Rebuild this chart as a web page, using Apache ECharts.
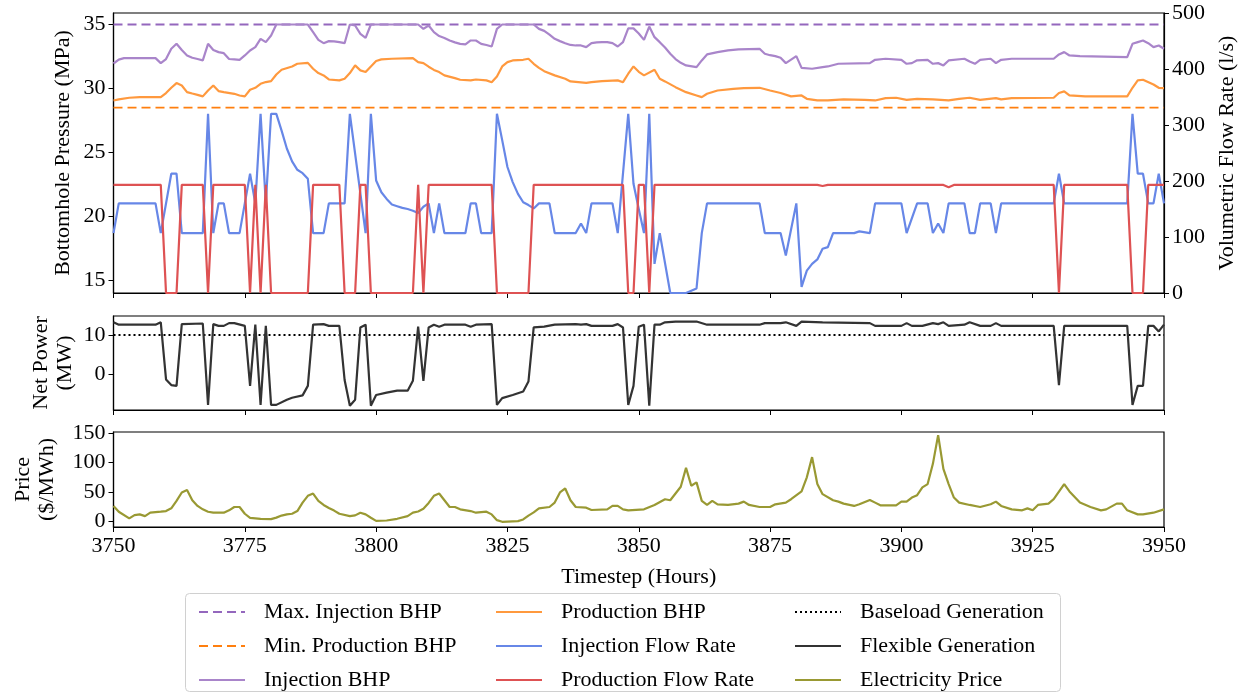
<!DOCTYPE html>
<html>
<head>
<meta charset="utf-8">
<script src="https://cdn.jsdelivr.net/npm/echarts@6.0.0/dist/echarts.min.js"></script>
<style>
  html, body { margin: 0; padding: 0; background: #fff; }
  #chart { width: 1245px; height: 700px; }
</style>
</head>
<body>
<div id="chart"></div>
<script>
// hours shown on the x axis
var hourRange = [3750, 3950];

// constant limits
var maxInjBhp = 35;
var minProdBhp = 28.5;
var baseload = 10;

// [hour, MPa]
var injBhp = [[3750,31.95],[3751,32.25],[3752,32.37],[3758,32.37],[3759,31.98],[3760,32.3],[3761,33.1],[3762,33.49],[3763,33.0],[3764,32.58],[3765,32.4],[3766,32.3],[3767,32.19],[3768,33.49],[3769,33.0],[3770,32.84],[3771,32.76],[3772,32.3],[3773,32.27],[3774,32.24],[3775,32.58],[3776,32.97],[3777,33.23],[3778,33.88],[3779,33.62],[3780,34.14],[3781,35],[3787,35],[3788,34.4],[3789,33.8],[3790,33.54],[3791,33.7],[3792,33.68],[3793,33.62],[3794,33.54],[3795,35],[3796,34.92],[3797,34.27],[3798,33.96],[3799,35],[3808,35],[3809,34.66],[3810,34.92],[3811,34.4],[3812,34.1],[3813,33.95],[3814,33.75],[3815,33.6],[3816,33.49],[3817,33.44],[3818,33.75],[3819,33.75],[3820,33.49],[3821,33.4],[3822,33.28],[3823,34.66],[3824,35],[3830,35],[3831,34.66],[3832,34.5],[3833,34.2],[3834,33.88],[3835,33.7],[3836,33.54],[3837,33.4],[3838,33.36],[3839,33.36],[3840,33.23],[3841,33.54],[3842,33.6],[3843,33.62],[3844,33.62],[3845,33.54],[3846,33.28],[3847,33.62],[3848,34.7],[3849,34.7],[3850,34.3],[3851,33.8],[3852,34.84],[3853,34.01],[3854,33.62],[3855,33.2],[3856,32.71],[3857,32.3],[3858,32.0],[3859,31.8],[3861,31.67],[3862,32.19],[3863,32.66],[3865,32.84],[3867,32.97],[3869,33.05],[3873,33.1],[3874,32.71],[3875,32.6],[3876,32.53],[3877,32.4],[3878,31.98],[3880,32.53],[3881,31.61],[3883,31.54],[3885,31.67],[3886,31.72],[3888,31.93],[3894,31.98],[3895,32.24],[3897,32.32],[3900,32.24],[3901,31.93],[3902,31.98],[3903,32.2],[3905,32.24],[3906,31.93],[3907,31.98],[3908,31.8],[3909,32.19],[3912,32.32],[3913,32.1],[3914,31.93],[3915,32.24],[3917,32.32],[3918,31.98],[3919,32.24],[3921,32.32],[3929,32.32],[3930,32.66],[3931,32.84],[3932,32.58],[3934,32.53],[3943,32.45],[3944,33.49],[3945,33.62],[3946,33.75],[3947,33.54],[3948,33.23],[3949,33.36],[3950,33.1]];

var prodBhp = [[3750,29.06],[3751,29.15],[3753,29.27],[3755,29.32],[3759,29.32],[3760,29.64],[3761,30.05],[3762,30.42],[3763,30.23],[3764,29.71],[3765,29.6],[3766,29.5],[3767,29.38],[3768,29.84],[3769,30.23],[3770,29.79],[3771,29.71],[3773,29.58],[3774,29.45],[3775,29.38],[3776,29.9],[3777,30.05],[3778,30.36],[3779,30.5],[3780,30.57],[3781,31.09],[3782,31.46],[3784,31.72],[3785,31.93],[3787,32.0],[3788,31.54],[3789,31.2],[3790,31.02],[3791,30.7],[3793,30.63],[3794,30.76],[3795,31.2],[3796,31.8],[3797,31.41],[3798,31.28],[3799,31.72],[3800,32.14],[3801,32.27],[3803,32.32],[3807,32.37],[3808,32.06],[3809,31.98],[3810,31.7],[3811,31.45],[3812,31.28],[3813,31.02],[3815,30.81],[3816,30.68],[3818,30.63],[3819,30.7],[3821,30.63],[3822,30.49],[3823,30.94],[3824,31.72],[3825,32.06],[3826,32.19],[3828,32.24],[3829,32.32],[3830,31.93],[3831,31.61],[3832,31.35],[3834,31.02],[3836,30.76],[3837,30.55],[3840,30.44],[3841,30.49],[3843,30.57],[3846,30.63],[3847,30.49],[3848,31.15],[3849,31.72],[3850,31.3],[3851,31.02],[3853,31.46],[3854,30.76],[3855,30.55],[3857,30.1],[3859,29.71],[3861,29.45],[3862,29.32],[3863,29.58],[3865,29.84],[3868,29.97],[3870,30.03],[3873,30.05],[3875,29.84],[3877,29.64],[3879,29.38],[3881,29.45],[3882,29.19],[3884,29.06],[3886,29.06],[3889,29.14],[3893,29.11],[3895,29.06],[3897,29.24],[3899,29.27],[3901,29.11],[3903,29.19],[3906,29.14],[3909,29.06],[3911,29.19],[3913,29.27],[3915,29.11],[3918,29.24],[3919,29.14],[3921,29.24],[3929,29.27],[3930,29.64],[3931,29.77],[3932,29.45],[3935,29.38],[3943,29.38],[3944,30.05],[3945,30.63],[3946,30.68],[3948,30.31],[3949,30.05],[3950,30.03]];

// [hour, l/s]
var injFlow = [[3750,107],[3751,160],[3758,160],[3759,107],[3761,213],[3762,213],[3763,107],[3767,107],[3768,320],[3769,107],[3770,160],[3771,160],[3772,107],[3774,107],[3775,160],[3776,213],[3777,160],[3778,320],[3779,160],[3780,320],[3781,320],[3782,290],[3783,258],[3784,235],[3785,220],[3786,214],[3787,204],[3788,107],[3790,107],[3791,160],[3794,160],[3795,320],[3798,107],[3799,320],[3800,201],[3801,180],[3802,168],[3803,158],[3804,155],[3805,152],[3806,150],[3807,147],[3808,143],[3809,154],[3810,160],[3811,107],[3812,160],[3813,107],[3817,107],[3818,160],[3819,160],[3820,107],[3822,107],[3823,320],[3824,273],[3825,225],[3826,198],[3827,177],[3828,162],[3829,157],[3830,151],[3831,160],[3833,160],[3834,107],[3838,107],[3839,124],[3840,107],[3841,160],[3845,160],[3846,107],[3848,320],[3849,195],[3850,150],[3851,107],[3852,320],[3853,52],[3854,107],[3856,0],[3859,0],[3860,4],[3861,8],[3862,107],[3863,160],[3873,160],[3874,107],[3877,107],[3878,67],[3880,160],[3881,11],[3882,40],[3883,52],[3884,60],[3885,79],[3886,82],[3887,107],[3891,107],[3892,110],[3894,107],[3895,160],[3900,160],[3901,107],[3903,160],[3905,160],[3906,107],[3907,124],[3908,107],[3909,160],[3912,160],[3913,107],[3914,107],[3915,160],[3917,160],[3918,107],[3919,160],[3929,160],[3930,213],[3931,160],[3943,160],[3944,320],[3945,213],[3946,213],[3947,160],[3948,160],[3949,213],[3950,160]];

var prodFlow = [[3750,193],[3759,193],[3760,0],[3762,0],[3763,193],[3767,193],[3768,0],[3769,193],[3775,193],[3776,0],[3777,193],[3778,0],[3779,193],[3780,0],[3787,0],[3788,193],[3793,193],[3794,0],[3796,0],[3797,193],[3798,193],[3799,0],[3807,0],[3808,193],[3809,0],[3810,193],[3822,193],[3823,0],[3829,0],[3830,193],[3847,193],[3848,0],[3849,0],[3850,193],[3851,193],[3852,0],[3853,193],[3884,193],[3885,191],[3886,193],[3908,193],[3909,189],[3910,193],[3929,193],[3930,0],[3931,193],[3943,193],[3944,0],[3946,0],[3947,193],[3950,193]];

// [hour, MW]
var flexGen = [[3750,13.2],[3751,12.6],[3758,12.6],[3759,13.2],[3760,-1.25],[3761,-2.7],[3762,-2.9],[3763,12.75],[3767,12.9],[3768,-7.7],[3769,12.75],[3770,12.3],[3771,12.3],[3772,13],[3773,13],[3775,12.3],[3776,-2.9],[3777,12.6],[3778,-7.7],[3779,12.3],[3780,-7.7],[3781,-7.7],[3783,-6.4],[3784,-5.9],[3786,-5.3],[3787,-2.9],[3788,12.6],[3790,12.75],[3791,12.3],[3793,12.3],[3794,-1.4],[3795,-7.9],[3796,-6.4],[3797,11.9],[3798,12.6],[3799,-7.9],[3800,-5.2],[3802,-4.6],[3804,-4.1],[3806,-4.1],[3807,-1.6],[3808,12.1],[3809,-1.6],[3810,11.9],[3811,12.6],[3812,12.1],[3813,12.6],[3817,12.6],[3818,12.1],[3819,12.6],[3822,12.75],[3823,-7.7],[3824,-6],[3826,-5.2],[3828,-4.3],[3829,-1.8],[3830,11.9],[3832,12.1],[3834,12.6],[3838,12.75],[3839,12.6],[3840,12.75],[3841,12.3],[3845,12.3],[3846,12.75],[3847,11.9],[3848,-7.7],[3849,-2.9],[3850,12.1],[3851,12.6],[3852,-7.9],[3853,12.6],[3854,12.6],[3855,13.2],[3857,13.4],[3861,13.4],[3863,12.6],[3873,12.6],[3874,13],[3877,13],[3878,13.2],[3880,12.3],[3881,13.4],[3885,13.2],[3894,13],[3895,12.3],[3900,12.3],[3901,13],[3902,12.3],[3904,12.3],[3906,13],[3907,12.75],[3908,13.2],[3909,12.3],[3912,12.6],[3913,13.2],[3915,12.3],[3917,12.3],[3918,13],[3919,12.3],[3929,12.3],[3930,-2.7],[3931,12.3],[3943,12.3],[3944,-7.7],[3945,-2.9],[3946,-2.9],[3947,12.3],[3948,12.3],[3949,10.9],[3950,12.6]];

// [hour, $/MWh]
var price = [[3750,25.9],[3751,16],[3753,4.6],[3754,10.3],[3755,11.5],[3756,8.6],[3757,14.4],[3759,16.1],[3760,17.2],[3761,21.8],[3762,34.5],[3763,48.9],[3764,52.9],[3765,35.6],[3766,25.9],[3767,20.1],[3768,16],[3769,14.4],[3771,14.4],[3772,18.4],[3773,24.1],[3774,24.1],[3775,12.6],[3776,5.7],[3778,4.0],[3780,3.4],[3781,6],[3782,9.5],[3783,11.5],[3784,12.6],[3785,17.2],[3786,31.6],[3787,43.1],[3788,47.1],[3789,34.5],[3790,27.6],[3791,22.5],[3792,18],[3793,12.6],[3795,8.6],[3796,9.8],[3797,14.4],[3798,11.5],[3799,5.7],[3800,0.5],[3802,1.1],[3804,4.0],[3806,8.6],[3807,14.4],[3808,16.5],[3809,21],[3810,31],[3811,43.1],[3812,47.1],[3813,35.6],[3814,24.1],[3815,24.1],[3816,20.1],[3818,17.2],[3819,14.4],[3821,16.1],[3822,11.5],[3823,1.7],[3824,-1.1],[3827,0],[3828,2.9],[3829,9.5],[3830,15],[3831,21.8],[3833,24.1],[3834,31.6],[3835,48.9],[3836,55.7],[3837,35.6],[3838,24.1],[3840,23],[3841,19],[3844,20.1],[3845,25.9],[3846,25.9],[3847,20.1],[3848,18.4],[3851,20.1],[3853,27.6],[3855,37.4],[3856,35.6],[3858,58.6],[3859,90.8],[3860,60.3],[3861,66.1],[3862,34.5],[3863,27.6],[3864,34.5],[3865,28.7],[3867,27.6],[3869,29.9],[3870,33.3],[3871,27.6],[3873,24.1],[3875,24.1],[3876,28.7],[3878,31.6],[3879,37.4],[3881,50.6],[3882,74.7],[3883,109.2],[3884,63.2],[3885,46],[3887,35.6],[3888,33.3],[3889,29.9],[3891,25.9],[3892,28.7],[3894,36.2],[3895,31.6],[3896,27],[3899,27],[3900,33.3],[3901,33.3],[3902,40.2],[3903,44.3],[3904,57.5],[3905,63.2],[3906,97.7],[3907,146.6],[3908,89.1],[3909,63.2],[3910,40.2],[3911,31.6],[3913,27.6],[3915,24.1],[3917,28.7],[3918,33.3],[3919,25.9],[3921,20.1],[3923,18.4],[3924,21.8],[3925,18.4],[3926,27.6],[3928,29.9],[3929,37.4],[3931,63.2],[3932,50.6],[3934,31.6],[3936,24.1],[3938,18.4],[3939,20.1],[3941,29.9],[3942,29.9],[3943,18.4],[3945,11.5],[3946,11.5],[3948,14.4],[3950,20.1]];

// axis tick labels
var bhpTicks = [15, 20, 25, 30, 35];
var powerTicks = [0, 10];
var priceTicks = [0, 50, 100, 150];

var FONT = "Liberation Serif";
var textBase = { color: "#000", fontFamily: FONT, fontSize: 22 };

function flat(v) {
  return [[hourRange[0], v], [hourRange[1], v]];
}

function lineSeries(name, data, color, opts) {
  opts = opts || {};
  return {
    name: name,
    type: "line",
    data: data,
    xAxisIndex: opts.x || 0,
    yAxisIndex: opts.y || 0,
    symbol: "none",
    silent: true,
    lineStyle: { color: color, width: opts.width || 2.2, type: opts.dash || "solid" },
    itemStyle: { color: color },
  };
}

function xAxis(gridIndex, showLabels) {
  return {
    type: "value",
    gridIndex: gridIndex,
    min: hourRange[0],
    max: hourRange[1],
    interval: 25,
    axisLine: { show: true, onZero: false, lineStyle: { color: "#000", width: 1.2 } },
    axisTick: { show: true, length: 5, lineStyle: { color: "#000" } },
    axisLabel: Object.assign({ show: showLabels, margin: 8, formatter: function (v) { return String(v); } }, textBase),
    splitLine: { show: false },
    name: showLabels ? "Timestep (Hours)" : "",
    nameLocation: "middle",
    nameGap: 39,
    nameTextStyle: textBase,
  };
}

function yAxis(gridIndex, min, max, ticks, name, gap) {
  return {
    type: "value",
    gridIndex: gridIndex,
    position: "left",
    min: min,
    max: max,
    axisLine: { show: true, lineStyle: { color: "#000", width: 1.2 } },
    axisTick: { show: true, length: 5, customValues: ticks, lineStyle: { color: "#000" } },
    axisLabel: Object.assign({ customValues: ticks, margin: 8 }, textBase),
    splitLine: { show: false },
    name: name,
    nameLocation: "middle",
    nameRotate: 90,
    nameGap: gap,
    nameMoveOverlap: false,
    nameTextStyle: Object.assign({ lineHeight: 24 }, textBase),
  };
}

function legendColumn(left, names) {
  return {
    left: left,
    top: 595,
    height: 140,
    orient: "vertical",
    itemGap: 10,
    itemWidth: 46,
    itemHeight: 14,
    itemStyle: { opacity: 0 },
    data: names,
    textStyle: Object.assign({ lineHeight: 24, padding: [0, 0, 0, 14] }, textBase),
  };
}

var chart = echarts.init(document.getElementById("chart"));

var gridBox = {
  show: true, borderColor: "#000", borderWidth: 1.2,
  left: 113.5, right: 81, outerBoundsMode: "none", containLabel: false,
};

chart.setOption({
  animation: false,
  backgroundColor: "#fff",
  grid: [
    Object.assign({ top: 13, height: 280 }, gridBox),
    Object.assign({ top: 316, height: 94 }, gridBox),
    Object.assign({ top: 432, height: 95 }, gridBox),
  ],
  xAxis: [xAxis(0, false), xAxis(1, false), xAxis(2, true)],
  yAxis: [
    yAxis(0, 14.0, 35.9, bhpTicks, "Bottomhole Pressure (MPa)", 38),
    {
      type: "value",
      gridIndex: 0,
      position: "right",
      min: 0,
      max: 500,
      interval: 100,
      axisLine: { show: true, lineStyle: { color: "#000", width: 1.2 } },
      axisTick: { show: true, length: 5, lineStyle: { color: "#000" } },
      axisLabel: Object.assign({ margin: 8 }, textBase),
      splitLine: { show: false },
      name: "Volumetric Flow Rate (l/s)",
      nameLocation: "middle",
      nameRotate: 90,
      nameGap: 52,
      nameTextStyle: textBase,
    },
    yAxis(1, -9, 14.8, powerTicks, "Net Power\n(MW)", 36),
    yAxis(2, -10, 152, priceTicks, "Price\n($/MWh)", 54),
  ],
  legend: [
    legendColumn(193, ["Max. Injection BHP", "Min. Production BHP", "Injection BHP"]),
    legendColumn(490, ["Production BHP", "Injection Flow Rate", "Production Flow Rate"]),
    legendColumn(789, ["Baseload Generation", "Flexible Generation", "Electricity Price"]),
  ],
  graphic: [
    {
      type: "rect",
      left: 183,
      top: 591,
      shape: { width: 875, height: 98, r: 4 },
      style: { fill: "none", stroke: "#d0d0d0", lineWidth: 1 },
      silent: true,
    },
  ],
  series: [
    lineSeries("Max. Injection BHP", flat(maxInjBhp), "#9467bd", { dash: [9, 5], width: 1.8 }),
    lineSeries("Min. Production BHP", flat(minProdBhp), "#ff7f0e", { dash: [9, 5], width: 1.8 }),
    lineSeries("Injection BHP", injBhp, "#a985ca"),
    lineSeries("Production BHP", prodBhp, "#ff993e"),
    lineSeries("Injection Flow Rate", injFlow, "#6787e7", { y: 1 }),
    lineSeries("Production Flow Rate", prodFlow, "#de5253", { y: 1 }),
    lineSeries("Baseload Generation", flat(baseload), "#000", { x: 1, y: 2, dash: [2, 3], width: 2 }),
    lineSeries("Flexible Generation", flexGen, "#333", { x: 1, y: 2 }),
    lineSeries("Electricity Price", price, "#999933", { x: 2, y: 3 }),
  ],
});
</script>
</body>
</html>
